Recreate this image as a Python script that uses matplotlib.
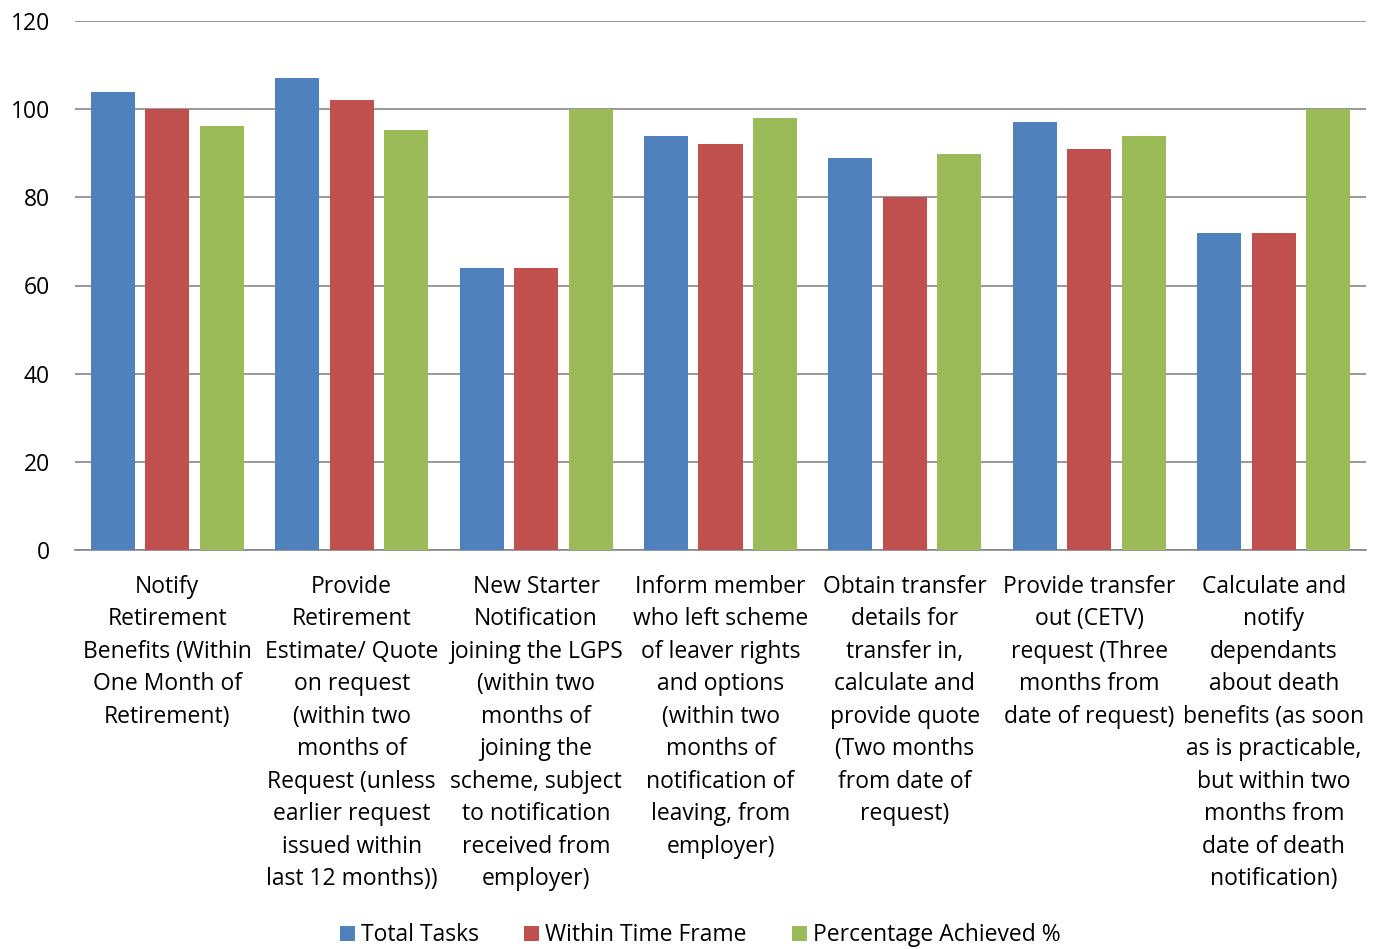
import matplotlib
matplotlib.use("Agg")
import matplotlib.pyplot as plt
import numpy as np

plt.rcParams['font.family'] = ['Open Sans', 'DejaVu Sans']

categories = [
    "Notify\nRetirement\nBenefits (Within\nOne Month of\nRetirement)",
    "Provide\nRetirement\nEstimate/ Quote\non request\n(within two\nmonths of\nRequest (unless\nearlier request\nissued within\nlast 12 months))",
    "New Starter\nNotification\njoining the LGPS\n(within two\nmonths of\njoining the\nscheme, subject\nto notification\nreceived from\nemployer)",
    "Inform member\nwho left scheme\nof leaver rights\nand options\n(within two\nmonths of\nnotification of\nleaving, from\nemployer)",
    "Obtain transfer\ndetails for\ntransfer in,\ncalculate and\nprovide quote\n(Two months\nfrom date of\nrequest)",
    "Provide transfer\nout (CETV)\nrequest (Three\nmonths from\ndate of request)",
    "Calculate and\nnotify\ndependants\nabout death\nbenefits (as soon\nas is practicable,\nbut within two\nmonths from\ndate of death\nnotification)",
]
total_tasks = [104, 107, 64, 94, 89, 97, 72]
within_time = [100, 102, 64, 92, 80, 91, 72]
pct_achieved = [96.2, 95.3, 100, 97.9, 89.9, 93.8, 100]

series = [
    ("Total Tasks", total_tasks, "#4F81BD"),
    ("Within Time Frame", within_time, "#C0504D"),
    ("Percentage Achieved %", pct_achieved, "#9BBB59"),
]

fig = plt.figure(figsize=(13.84, 9.49), dpi=100)
ax = fig.add_axes([75/1384, 1-550/949, (1366-75)/1384, (550-21)/949])

x = np.arange(len(categories))
w = 0.2386
step = 0.2955
for i, (name, vals, col) in enumerate(series):
    ax.bar(x + (i-1)*step, vals, width=w, color=col, label=name, zorder=3)

ax.set_xlim(-0.5, len(categories)-0.5)
ax.set_ylim(0, 120)
ax.set_yticks(range(0, 121, 20))
ax.yaxis.grid(True, color='#868686', linewidth=1.2, zorder=0)
for s in ['top', 'right', 'left']:
    ax.spines[s].set_visible(False)
ax.spines['bottom'].set_color('#868686')
ax.spines['bottom'].set_linewidth(1.2)
ax.tick_params(axis='y', length=0, labelsize=16.5, pad=18)
ax.tick_params(axis='x', length=0, labelsize=16.5, pad=18)
ax.set_xticks(x)
ax.set_xticklabels(categories, linespacing=1.47)

handles, labels = ax.get_legend_handles_labels()
fig.legend(handles, labels, loc='lower center', bbox_to_anchor=(0.506, -0.02), ncol=3,
           frameon=False, fontsize=16.5, handlelength=0.65, handleheight=0.65,
           handletextpad=0.25, columnspacing=2.0)

fig.savefig("out.png", dpi=100)
